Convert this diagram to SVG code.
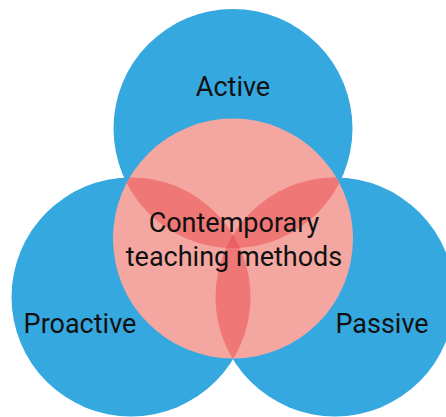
<svg xmlns="http://www.w3.org/2000/svg" width="446" height="417" viewBox="0 0 446 417">
<style>
.blue{fill:#35A8E0}
.pink{fill:#F4A7A1}
.lens{fill:#EF7776}
.core{fill:#EA5E68}
.lbl{font-family:Roboto,"Liberation Sans",sans-serif;font-size:27px;fill:#111;text-anchor:middle}
</style>
<defs>
<clipPath id="cTop"><circle cx="233" cy="128.5" r="119.5"/></clipPath>
<clipPath id="cLeft"><circle cx="131" cy="297" r="119.5"/></clipPath>
<clipPath id="cRight"><circle cx="335" cy="297" r="119.5"/></clipPath>
<clipPath id="cPink"><circle cx="233" cy="238.5" r="120"/></clipPath>
</defs>
<rect width="446" height="417" fill="#fff"/>
<g id="active"><circle class="blue" cx="233" cy="128.5" r="119.5"/></g>
<g id="proactive"><circle class="blue" cx="131" cy="297" r="119.5"/></g>
<g id="passive"><circle class="blue" cx="335" cy="297" r="119.5"/></g>
<g id="center">
<circle class="pink" cx="233" cy="238.5" r="120"/>
<g clip-path="url(#cPink)">
<g clip-path="url(#cTop)"><circle class="lens" cx="131" cy="297" r="119.5"/><circle class="lens" cx="335" cy="297" r="119.5"/></g>
<g clip-path="url(#cLeft)"><circle class="lens" cx="335" cy="297" r="119.5"/></g>
<g clip-path="url(#cTop)"><g clip-path="url(#cLeft)"><circle class="core" cx="335" cy="297" r="119.5"/></g></g>
</g>
</g>
<g id="labels">
<text class="lbl" x="233" y="96">Active</text>
<text class="lbl" x="80" y="333">Proactive</text>
<text class="lbl" x="382" y="333">Passive</text>
<text class="lbl" x="234" y="232">Contemporary</text>
<text class="lbl" x="234" y="266">teaching methods</text>
</g>
<g id="connectors"/>
</svg>
